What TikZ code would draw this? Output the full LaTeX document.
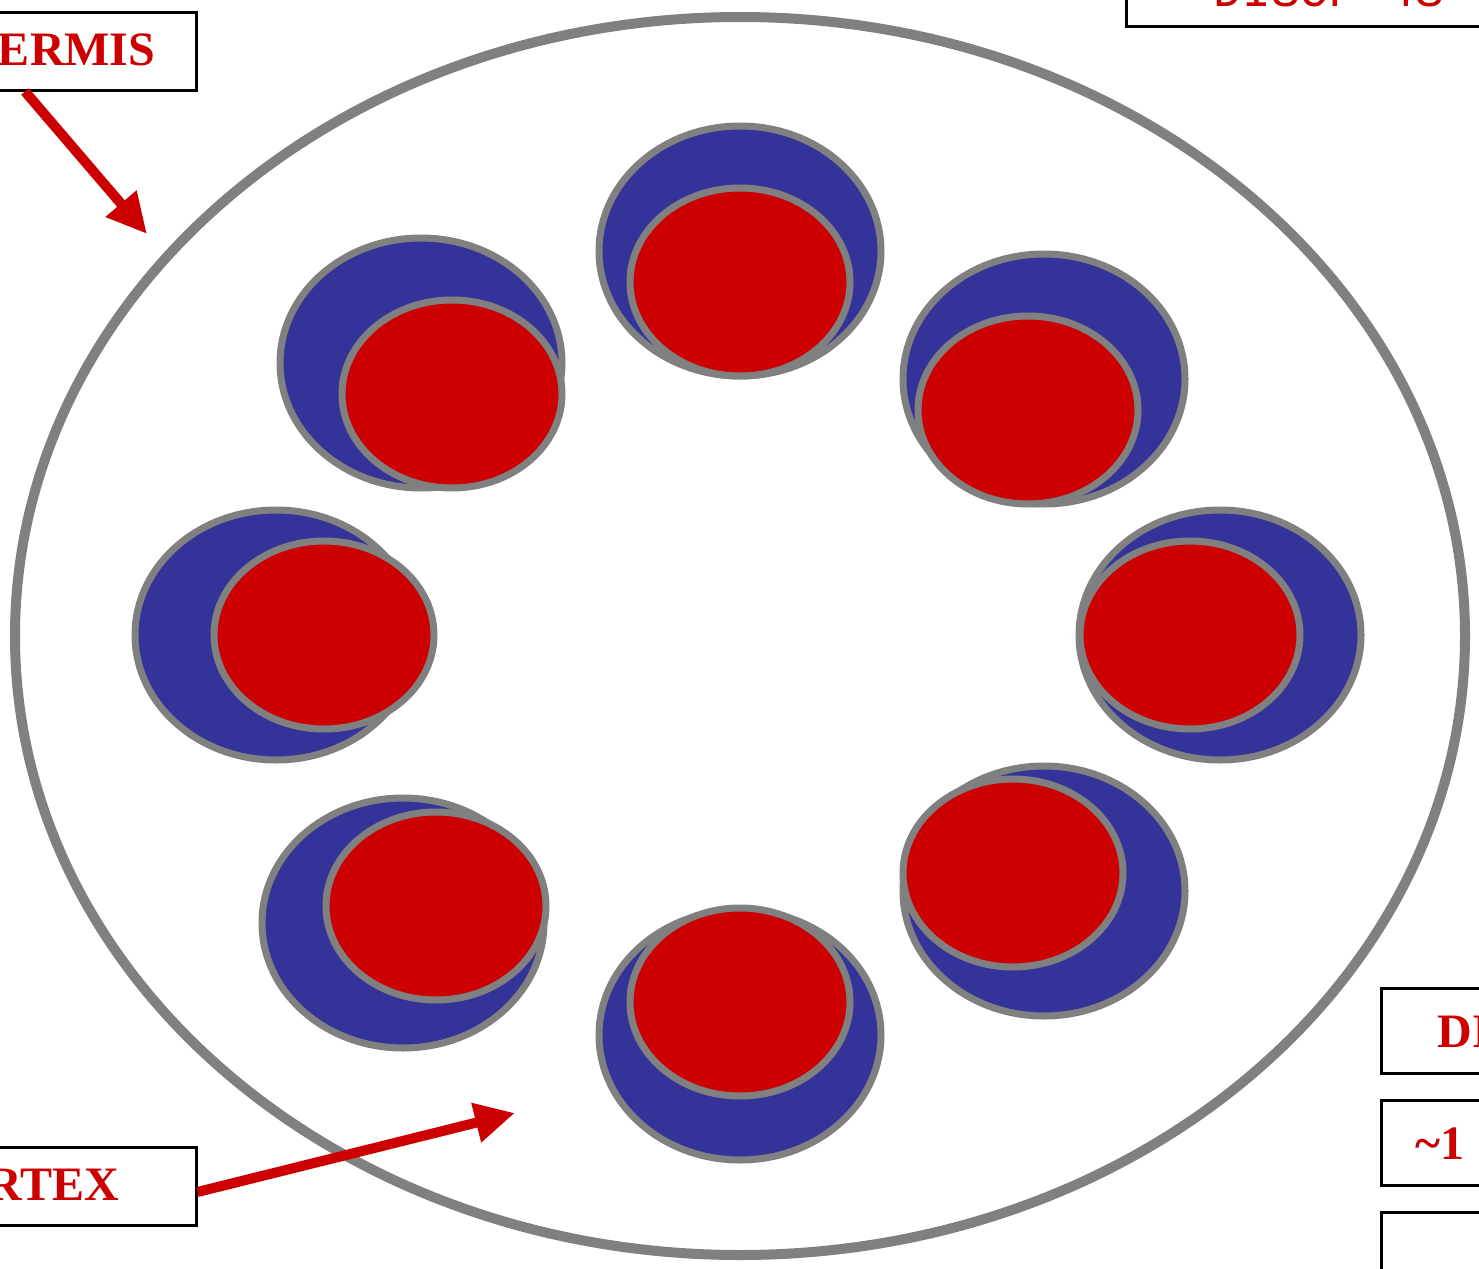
\documentclass[tikz,border=0pt]{standalone}
\usepackage{fontspec}
\setmainfont{Liberation Serif}
\newfontfamily\monofont{Liberation Mono}
\usetikzlibrary{arrows.meta}
\definecolor{dgray}{HTML}{808080}
\definecolor{dblue}{HTML}{333399}
\definecolor{dred}{HTML}{CC0000}
\begin{document}
\begin{tikzpicture}[x=0.5pt,y=-0.5pt,
  outer/.style={draw=dgray,line width=5pt},
  blueell/.style={draw=dgray,fill=dblue,line width=3.5pt},
  redell/.style={draw=dgray,fill=dred,line width=3.5pt},
  labelbox/.style={draw=black,line width=1.5pt,fill=white,inner sep=0pt},
  lbl/.style={text=dred,inner sep=0pt,font=\bfseries\fontsize{24}{28}\selectfont},
  monolbl/.style={text=dred,inner sep=0pt,font=\monofont\fontsize{24}{28}\selectfont},
  pointer/.style={draw=dred,line width=5pt,-{Triangle[length=20pt,width=19pt]}}]
\useasboundingbox (0,0) rectangle (1479,1269);
\fill[white] (0,0) rectangle (1479,1269);
% outer ring
\draw[outer] (740,636) ellipse [x radius=725, y radius=619];
% detector modules: blue then red
\foreach \bx/\by/\rx/\ry in {740/251/740/282, 421/363/452/394, 1044/379/1028/410, 276/635/324/635,
  1220/635/1190/635, 403/923/436/906, 740/1035/740/1002, 1044/891/1013/873}{
  \draw[blueell] (\bx,\by) ellipse [x radius=141, y radius=125];
  \draw[redell] (\rx,\ry) ellipse [x radius=110, y radius=94];
}
% label boxes
\node[labelbox, minimum width=138pt, minimum height=39pt] (hermbox) at (58,51) {};
\node[lbl, anchor=base] (hermis) at (58,65) {HERMIS};
\node[labelbox, minimum width=243pt, minimum height=39pt] (vertbox) at (-47,1186) {};
\node[lbl, anchor=base east] (vertex) at (120,1200) {VERTEX};
\node[labelbox, anchor=north west, minimum width=200pt, minimum height=40pt] (topbox) at (1125,-55) {};
\node[monolbl, anchor=base west] (toptext) at (1213,6) {DISCF 4S};
\node[labelbox, anchor=north west, minimum width=100pt, minimum height=42.5pt] (rbox1) at (1380,987) {};
\node[lbl, anchor=base west] (rtext1) at (1437,1047) {DI};
\node[labelbox, anchor=north west, minimum width=100pt, minimum height=42.5pt] (rbox2) at (1380,1099) {};
\node[lbl, anchor=base west] (rtext2) at (1415,1159) {\char`\~1};
\node[labelbox, anchor=north west, minimum width=100pt, minimum height=42.5pt] (rbox3) at (1380,1211) {};
% pointers
\coordinate (hermtip) at (147,234);
\coordinate (verttip) at (515,1113);
\draw[pointer] ([xshift=-16.5pt]hermbox.south) -- (hermtip);
\draw[pointer] ([yshift=-3pt]vertbox.east) -- (verttip);
\end{tikzpicture}
\end{document}
